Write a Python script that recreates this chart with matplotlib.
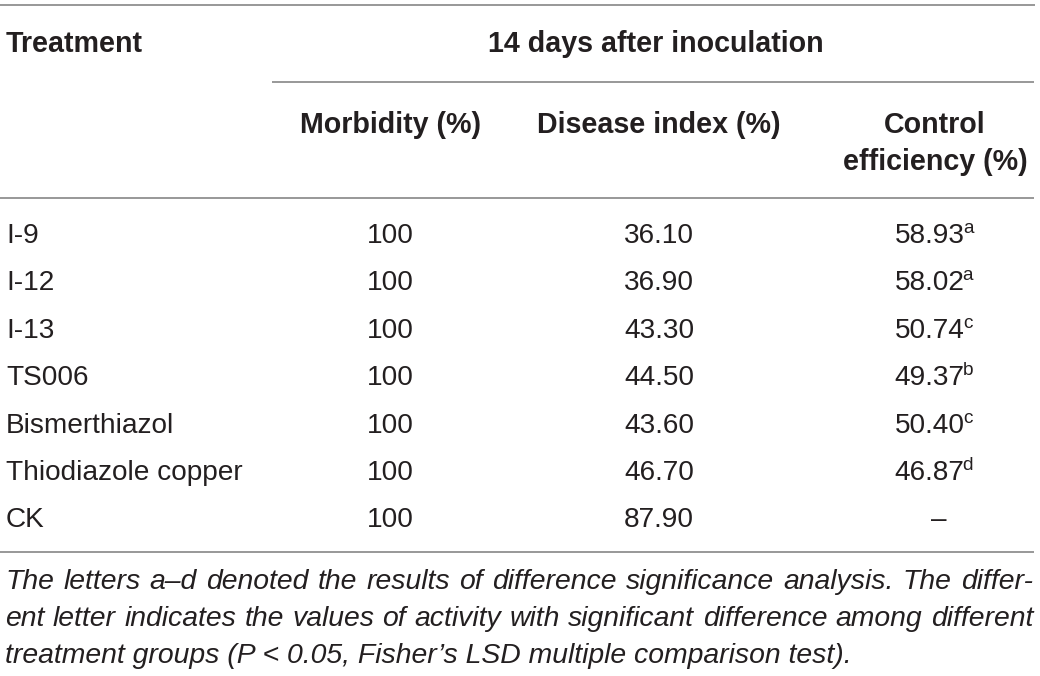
import matplotlib
matplotlib.use("Agg")
import matplotlib.pyplot as plt
from matplotlib.lines import Line2D

# ---------------- data ----------------
treatments = ["I-9", "I-12", "I-13", "TS006", "Bismerthiazol", "Thiodiazole copper", "CK"]
morbidity = ["100", "100", "100", "100", "100", "100", "100"]
disease_index = ["36.10", "36.90", "43.30", "44.50", "43.60", "46.70", "87.90"]
control_eff = ["58.93", "58.02", "50.74", "49.37", "50.40", "46.87", "\u2013"]
sig_letters = ["a", "a", "c", "b", "c", "d", ""]

group_header = "14 days after inoculation"
first_header = "Treatment"
col_headers = ["Morbidity (%)", "Disease index (%)", "Control\nefficiency (%)"]
footnote_lines = [
    "The letters a\u2013d denoted the results of difference significance analysis. The differ-",
    "ent letter indicates the values of activity with significant difference among different",
    "treatment groups (P < 0.05, Fisher\u2019s LSD multiple comparison test).",
]

# ---------------- layout ----------------
W, H = 1040, 676
fig = plt.figure(figsize=(W / 100, H / 100), dpi=100)
ax = fig.add_axes([0, 0, 1, 1])
ax.set_xlim(0, W)
ax.set_ylim(H, 0)
ax.axis("off")

FONT = "Liberation Sans"
TXT = "#231f20"
LINE = "#8f8f8f"
PX = 72 / 100  # px -> pt
body_size = 28 * PX
head_size = 28.6 * PX
note_size = 28.4 * PX

renderer = fig.canvas.get_renderer()


def width_of(t):
    bb = t.get_window_extent(renderer=renderer)
    return bb.width


def hline(x0, x1, y, lw=1.8):
    ax.add_line(Line2D([x0, x1], [y, y], color=LINE, lw=lw * PX, solid_capstyle="butt"))


x_left, x_right = 5, 1033
col_x = [390, 659, 935]

# rules
hline(0, 1035, 5)
hline(272, 1034, 82)
hline(0, 1034, 198)
hline(0, 1034, 552)

# headers
ax.text(x_left + 1, 52, first_header, fontsize=head_size, fontweight="bold",
        family=FONT, color=TXT, ha="left", va="baseline")
ax.text(656, 52, group_header, fontsize=head_size, fontweight="bold",
        family=FONT, color=TXT, ha="center", va="baseline")
for cx, hdr in zip(col_x, col_headers):
    for k, part in enumerate(hdr.split("\n")):
        ax.text(cx, 133 + 37 * k, part, fontsize=head_size, fontweight="bold",
                family=FONT, color=TXT, ha="center", va="baseline")

# body rows
row0, step = 243, 47.4
for i, name in enumerate(treatments):
    yb = row0 + step * i
    ax.text(x_left + 1, yb, name, fontsize=body_size, family=FONT, color=TXT,
            ha="left", va="baseline")
    ax.text(col_x[0], yb, morbidity[i], fontsize=body_size, family=FONT, color=TXT,
            ha="center", va="baseline")
    ax.text(col_x[1], yb, disease_index[i], fontsize=body_size, family=FONT, color=TXT,
            ha="center", va="baseline")
    # control efficiency with superscript letter
    t = ax.text(0, yb, control_eff[i], fontsize=body_size, family=FONT, color=TXT,
                ha="left", va="baseline")
    wn = width_of(t)
    if sig_letters[i]:
        s = ax.text(0, yb - 10, sig_letters[i], fontsize=body_size * 0.68, family=FONT,
                    color=TXT, ha="left", va="baseline")
        ws = width_of(s)
        x0 = col_x[2] - (wn + ws) / 2
        t.set_x(x0)
        s.set_x(x0 + wn - 2)
    else:
        t.set_x(col_x[2] - wn / 2 + 4)

# footnote, justified
note_base = 589
note_step = 37.2
for li, line in enumerate(footnote_lines):
    yb = note_base + note_step * li
    words = line.split(" ")
    if li == len(footnote_lines) - 1:
        ax.text(x_left, yb, line, fontsize=note_size, style="italic", family=FONT,
                color=TXT, ha="left", va="baseline")
        continue
    objs = [ax.text(0, yb, w, fontsize=note_size, style="italic", family=FONT,
                    color=TXT, ha="left", va="baseline") for w in words]
    widths = [width_of(o) for o in objs]
    gap = (x_right - x_left - sum(widths)) / (len(words) - 1)
    x = x_left
    for o, w in zip(objs, widths):
        o.set_x(x)
        x += w + gap

fig.savefig("out.png", dpi=100, facecolor="white")
